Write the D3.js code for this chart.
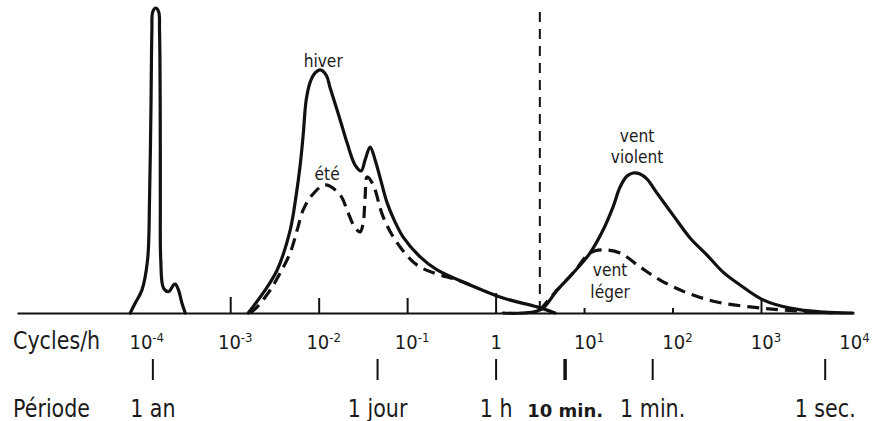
<!DOCTYPE html>
<meta http-equiv="Content-type" content="text/html; charset=UTF-8"/>
<svg width="872" height="421"></svg>
<script src="https://cdn.jsdelivr.net/npm/d3@7/dist/d3.min.js"></script>
<style>
  body { margin: 0; background: #fff; }
  svg { display: block; }
  text { font-family: 'DejaVu Sans', sans-serif; fill: #1a1a1a; }
</style>
<script>
// x = log10(cycles/h), y = relative energy (0-100)
var annuel = [[-4.130, 0], [-4.073, 3.3], [-3.998, 7.5], [-3.934, 17.4], [-3.912, 37], [-3.896, 66.6],
  [-3.885, 92.8], [-3.876, 98.7], [-3.842, 100], [-3.808, 98.7], [-3.799, 92.8], [-3.791, 66.6],
  [-3.790, 37], [-3.785, 17.4], [-3.754, 8.2], [-3.697, 7.0], [-3.641, 9.2], [-3.621, 9.5],
  [-3.584, 7.5], [-3.546, 3.3], [-3.508, 0]];

var hiver = [[-2.797, 0], [-2.627, 6.6], [-2.469, 14.1], [-2.322, 27.2], [-2.254, 38.7], [-2.209, 48.5],
  [-2.175, 58.4], [-2.141, 69.8], [-2.096, 75.7], [-2.040, 78.7], [-1.983, 79.7], [-1.915, 78.0],
  [-1.870, 73.8], [-1.757, 63.3], [-1.678, 55.7], [-1.588, 48.5], [-1.520, 46.6], [-1.475, 50.2],
  [-1.418, 54.4], [-1.362, 50.2], [-1.305, 44.3], [-1.226, 36.1], [-1.136, 29.8], [-1.045, 24.9],
  [-0.853, 18.4], [-0.661, 14.1], [-0.288, 9.2], [0.085, 4.9], [0.469, 2.0], [0.672, 0]];

var ete = [[-2.774, 0], [-2.695, 2.0], [-2.548, 7.5], [-2.435, 13.1], [-2.322, 19.7], [-2.243, 27.2],
  [-2.175, 33.8], [-2.073, 38.7], [-1.927, 42.0], [-1.757, 38.7], [-1.667, 32.8], [-1.588, 27.9],
  [-1.531, 26.6], [-1.497, 29.5], [-1.475, 38.0], [-1.452, 44.6], [-1.384, 42.0], [-1.271, 31.5],
  [-1.113, 23.0], [-0.887, 15.7], [-0.661, 12.8], [-0.458, 11.1], [-0.288, 9.2]];

var ventViolent = [[0.085, 0], [0.503, 1.0], [0.695, 7.5], [0.876, 13.1], [1.068, 19.7], [1.215, 27.2],
  [1.328, 34.8], [1.407, 41.3], [1.486, 44.9], [1.554, 45.9], [1.633, 45.6], [1.712, 43.9],
  [1.825, 39.3], [2.006, 32.1], [2.198, 24.6], [2.390, 19.0], [2.571, 13.4], [2.763, 9.2],
  [3.023, 4.3], [3.328, 1.6], [3.701, 0.3], [4.040, 0]];

var ventLeger = [[0.503, 1.0], [0.695, 7.5], [0.876, 13.1], [1.068, 19.7], [1.215, 20.7], [1.407, 19.7],
  [1.633, 15.1], [1.859, 10.8], [2.164, 6.6], [2.503, 3.6], [2.876, 2.0], [3.249, 1.0], [3.814, 0]];

var cycleTicks = [-4, -3, -2, -1, 0, 1, 2, 3, 4];
var baseTicks = [-3, -2, -1, 0, 1, 2, 3];
var periodTicks = [-3.88, -1.34, 0, 0.78, 1.77, 3.72];
var periodLabels = ["1 an", "1 jour", "1 h", "10 min.", "1 min.", "1 sec."];
var coupure = 0.5;

var notes = [
  {x: -1.949, y: 80.7, t: "hiver"},
  {x: -1.904, y: 43.6, t: "été"},
  {x: 1.599, y: 56.1, t: "vent"},
  {x: 1.599, y: 49.2, t: "violent"},
  {x: 1.294, y: 12.1, t: "vent"},
  {x: 1.294, y: 4.9, t: "léger"}
];

var baseTickLen = {"-3": 16, "-2": 15, "-1": 15, "0": 20, "1": 5, "2": 5, "3": 13};
var narrow = 0.86;   // the original lettering is narrower than DejaVu

var svg = d3.select("svg");

var x = d3.scaleLinear().domain([-5.41, 4.04]).range([17, 853]);
var y = d3.scaleLinear().domain([0, 100]).range([313, 8]);

var line = d3.line()
    .x(function(d) { return x(d[0]); })
    .y(function(d) { return y(d[1]); })
    .curve(d3.curveCatmullRom.alpha(0.5));

// baseline with its small ticks
var base = svg.append("g")
    .attr("transform", "translate(0," + y(0) + ")")
    .call(d3.axisTop(x).tickValues(baseTicks).tickSizeOuter(0).tickFormat(""));
base.select(".domain").attr("stroke", "#111").attr("stroke-width", 2);
base.selectAll(".tick line")
    .attr("stroke", "#111").attr("stroke-width", 2)
    .attr("y2", function(d) { return -baseTickLen[d]; });

// separation line
svg.append("line")
    .attr("x1", x(coupure)).attr("x2", x(coupure))
    .attr("y1", 12).attr("y2", y(0))
    .attr("stroke", "#111").attr("stroke-width", 2)
    .attr("stroke-dasharray", "10,7");

function curve(data, dashed) {
  svg.append("path")
      .datum(data)
      .attr("fill", "none")
      .attr("stroke", "#111")
      .attr("stroke-width", 3.2)
      .attr("stroke-linejoin", "round")
      .attr("stroke-linecap", dashed ? "butt" : "round")
      .attr("stroke-dasharray", dashed ? "12,7" : null)
      .attr("d", line);
}
curve(annuel, false);
curve(hiver, false);
curve(ete, true);
curve(ventViolent, false);
curve(ventLeger, true);

svg.selectAll(".note")
  .data(notes)
  .enter().append("text")
    .attr("class", "note")
    .attr("transform", function(d) {
      return "translate(" + x(d.x) + "," + y(d.y) + ") scale(" + narrow + ",1)";
    })
    .attr("text-anchor", "middle")
    .style("font-size", "18px")
    .text(function(d) { return d.t; });

// cycles/h labels
var cyc = svg.append("g")
    .attr("transform", "translate(0,349)")
    .call(d3.axisBottom(x).tickValues(cycleTicks).tickSize(0).tickFormat(""));
cyc.attr("font-family", null).attr("font-size", null);
cyc.select(".domain").remove();
cyc.selectAll(".tick text").each(function(d) {
  var t = d3.select(this).attr("y", 0).attr("dy", 0).attr("text-anchor", "middle")
      .attr("transform", "scale(0.9,1)")
      .style("font-size", "20px");
  if (d === 0) { t.text("1"); return; }
  t.attr("dx", 5);
  t.append("tspan").text("10");
  t.append("tspan").attr("dy", -7).style("font-size", "13px").text(d);
});

// period labels
var per = svg.append("g")
    .attr("transform", "translate(0,359)")
    .call(d3.axisBottom(x).tickValues(periodTicks).tickSize(21)
      .tickFormat(function(d, i) { return periodLabels[i]; }));
per.attr("font-family", null).attr("font-size", null);
per.select(".domain").remove();
per.selectAll(".tick line")
    .attr("stroke", "#111")
    .attr("stroke-width", function(d, i) { return i === 3 ? 3.5 : 2; });
per.selectAll(".tick text")
    .attr("y", 0).attr("dy", 0)
    .attr("transform", function(d, i) {
      return "translate(0,58)" + (i === 3 ? "" : " scale(" + narrow + ",1)");
    })
    .attr("fill", "#1a1a1a")
    .style("font-size", function(d, i) { return i === 3 ? "18px" : "24px"; })
    .style("font-weight", function(d, i) { return i === 3 ? "bold" : null; });

svg.append("text").attr("transform", "translate(13,349) scale(" + narrow + ",1)")
    .style("font-size", "24px").text("Cycles/h");
svg.append("text").attr("transform", "translate(13,417) scale(" + narrow + ",1)")
    .style("font-size", "24px").text("Période");
</script>
